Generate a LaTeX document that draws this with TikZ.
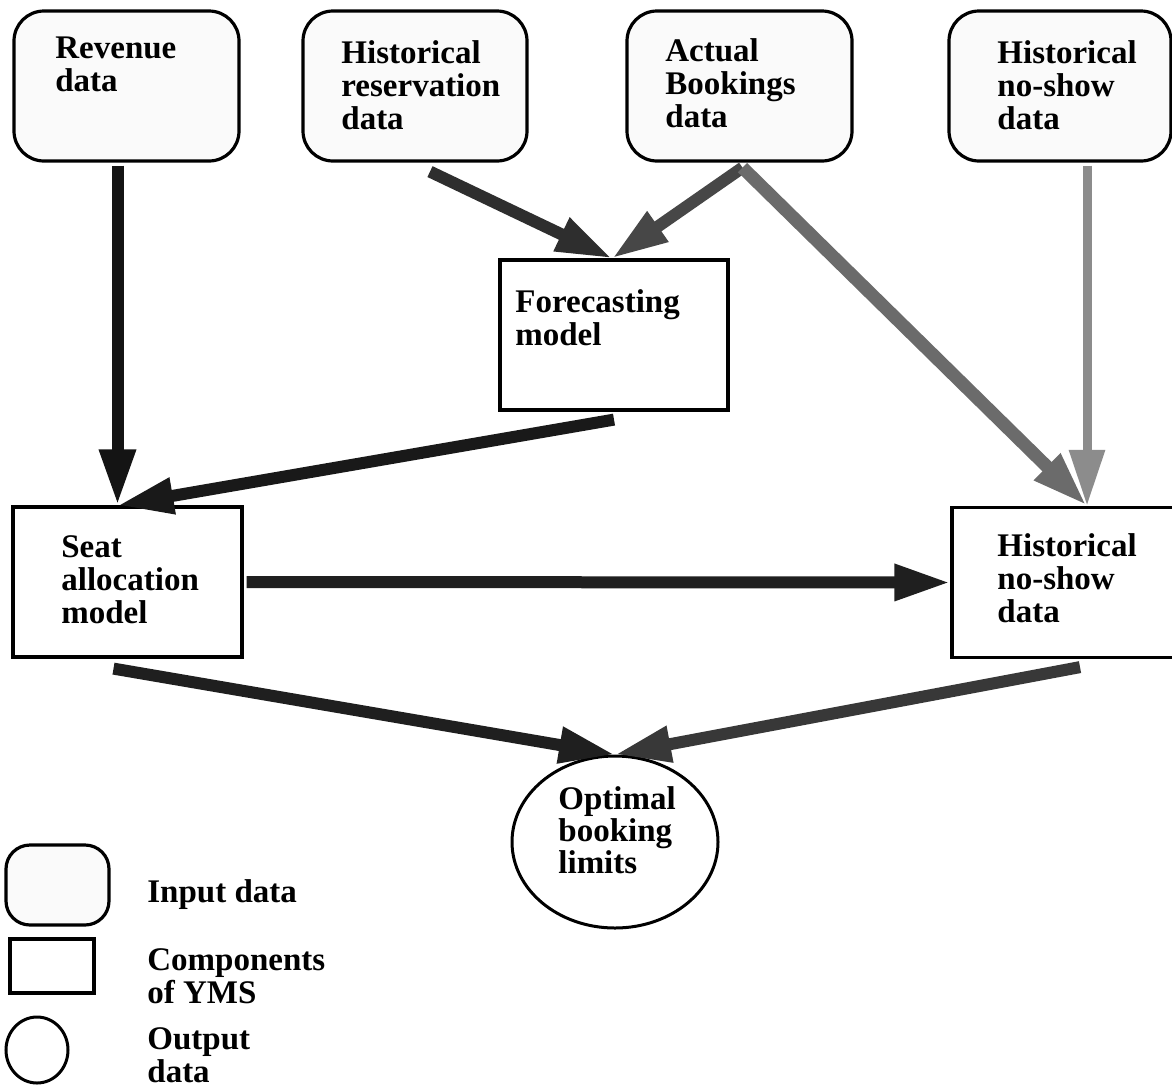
\documentclass[tikz,border=0pt]{standalone}
\usepackage{fontspec}
\setmainfont{Liberation Serif}
\usetikzlibrary{shapes.geometric,arrows.meta,calc}
\begin{document}
\begin{tikzpicture}[x=0.5pt,y=-0.5pt,
  lbl/.style={anchor=north west, inner sep=0pt, align=left, font=\fontsize{16.5pt}{16.5pt}\selectfont\bfseries},
  inbox/.style={draw, line width=1.6pt, rounded corners=15pt, fill=black!2, minimum width=112.5pt, minimum height=75pt, inner sep=0pt},
  comp/.style={draw, line width=1.6pt, fill=white, minimum width=114pt, minimum height=75pt, inner sep=0pt},
  outp/.style={draw, ellipse, line width=1.5pt, fill=white, inner sep=0pt},
  arr/.style={line width=6pt, -{Triangle[length=28pt,width=17pt]}},
]
\useasboundingbox (0,0) rectangle (1172,1088);
\fill[white] (0,0) rectangle (1172,1088);
\clip (0,0) rectangle (1172,1088);

% input data boxes
\node[inbox] (rev) at (126.5,86) {};
\node[inbox, minimum width=112pt] (hr) at (415,86) {};
\node[inbox] (ab) at (739.5,86) {};
\node[inbox, minimum width=111pt] (hn) at (1060,86) {};

% components
\node[comp] (fc) at (614,335) {};
\node[comp, minimum width=114.5pt] (seat) at (127.5,582) {};
\node[comp] (rb) at (1066,582.5) {};

% output
\node[outp, minimum width=103pt, minimum height=86pt] (el) at (615,842) {};

% texts
\node[lbl] (t1) at (55,36) {Revenue\\data};
\node[lbl] (t2) at (341,40) {Historical\\reservation\\data};
\node[lbl] (t3) at (665,38) {Actual\\Bookings\\data};
\node[lbl] (t4) at (997,40) {Historical\\no-show\\data};
\node[lbl] (t5) at (515,289) {Forecasting\\model};
\node[lbl] (t6) at (61,535) {Seat\\allocation\\model};
\node[lbl] (t7) at (997,533) {Historical\\no-show\\data};
\node[lbl, font=\fontsize{16.5pt}{16pt}\selectfont\bfseries] (t8) at (558,786) {Optimal\\booking\\limits};

% arrows
\draw[arr, black!92] ($(rev.south)+(-9,3)$) -- ($(seat.north)+(-10,0)$);
\draw[arr, black!82] ($(hr.south)+(15,9)$) -- ($(fc.north)+(-2,0)$);
\draw[arr, black!72] ($(ab.south)+(3,5)$) -- ($(fc.north)+(-2,0)$);
\draw[arr, black!58, line width=6.5pt] ($(ab.south)+(3,5)$) -- ($(rb.north)+(21,0)$);
\draw[arr, black!45, line width=4.5pt] ($(hn.south)+(27,3)$) -- ($(rb.north)+(21,0)$);
\draw[arr, black!90] ($(fc.south)+(0,8)$) -- ($(seat.north)+(-10,0)$);
\draw[arr, black!88] ($(seat.east)+(3,0)$) -- (rb.west);
\draw[arr, black!88] ($(seat.south)+(-14,10)$) -- (el.north);
\draw[arr, black!78] ($(rb.south)+(14,8)$) -- (el.north);

% legend
\node[inbox, minimum width=51.5pt, minimum height=40pt, rounded corners=12pt] (lin) at (57.5,885) {};
\node[comp, minimum width=42pt, minimum height=27pt] (lcomp) at (52,966) {};
\node[outp, minimum width=31pt, minimum height=33pt] (lout) at (37,1050) {};
\node[lbl] (l1) at (147,879) {Input data};
\node[lbl] (l2) at (147,948) {Components\\of YMS};
\node[lbl] (l3) at (147,1027) {Output\\data};
\end{tikzpicture}
\end{document}
